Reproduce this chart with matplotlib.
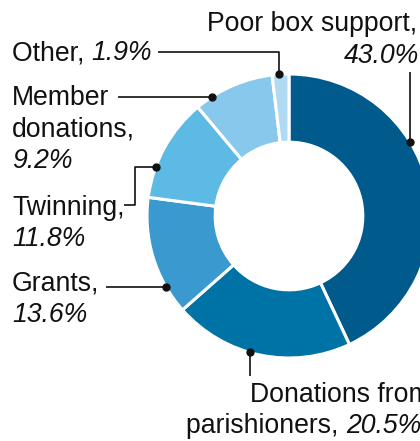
import numpy as np
import matplotlib.pyplot as plt

plt.rcParams['font.family'] = ['Liberation Sans', 'DejaVu Sans']

# data
categories = ["Poor box support", "Donations from parishioners", "Grants",
              "Twinning", "Member donations", "Other"]
shares = [43.0, 20.5, 13.6, 11.8, 9.2, 1.9]
colors = ["#005a8c", "#0073a6", "#3a99cf", "#5cbae4", "#88c8ec", "#b0daf4"]

# label text, one list per line: (text, italic)
label_lines = {
    "Poor box support": [[("Poor box support,", False)], [("{p}", True)]],
    "Donations from parishioners": [[("Donations from", False)],
                                    [("parishioners, ", False), ("{p}", True)]],
    "Grants": [[("Grants,", False)], [("{p}", True)]],
    "Twinning": [[("Twinning,", False)], [("{p}", True)]],
    "Member donations": [[("Member", False)], [("donations,", False)], [("{p}", True)]],
    "Other": [[("Other, ", False), ("{p}", True)]],
}

# layout in reference pixels
W, H = 420, 441
CX, CY, R = 289, 216, 142
FS = 19.2

text_pos = {  # x of left edge, baselines
    "Poor box support": [(207, 31), (344, 63)],
    "Donations from parishioners": [(250, 402), (186, 433)],
    "Grants": [(12, 291), (12, 322)],
    "Twinning": [(12, 215), (12, 246)],
    "Member donations": [(12, 105), (12, 137), (12, 168)],
    "Other": [(12, 60)],
}
anchor_deg = {"Poor box support": 31.5, "Donations from parishioners": -106,
              "Grants": -150, "Twinning": 159.8, "Member donations": 123,
              "Other": 94}


def P(x, y):
    return (x - CX) / R, (CY - y) / R


fig = plt.figure(figsize=(W / 100, H / 100), dpi=100)
ax = fig.add_axes([(CX - R) / W, (H - CY - R) / H, 2 * R / W, 2 * R / H])

ax.pie(shares, colors=colors, startangle=90, counterclock=False, radius=1,
       wedgeprops=dict(width=0.48, edgecolor="white", linewidth=2.2))
ax.set_xlim(-1, 1)
ax.set_ylim(-1, 1)
ax.axis("off")


def draw_line(x, y, parts):
    txt, it = parts[0]
    t = ax.text(*P(x, y), txt, fontsize=FS, style="italic" if it else "normal",
                ha="left", va="baseline", color="#111111")
    for txt, it in parts[1:]:
        t = ax.annotate(txt, xy=(1, 0), xycoords=t, fontsize=FS,
                        style="italic" if it else "normal",
                        ha="left", va="bottom", color="#111111")


for cat, val in zip(categories, shares):
    pct = f"{val:.1f}%"
    for (x, y), parts in zip(text_pos[cat], label_lines[cat]):
        draw_line(x, y, [(s.format(p=pct), it) for s, it in parts])

    a = np.deg2rad(anchor_deg[cat])
    dx, dy = np.cos(a), np.sin(a)
    if cat == "Poor box support":
        pts = [(dx, P(0, 72)[1]), (dx, dy)]
    elif cat == "Donations from parishioners":
        pts = [(dx, P(0, 376)[1]), (dx, dy)]
    elif cat == "Grants":
        pts = [(P(106, 0)[0], dy), (dx, dy)]
    elif cat == "Member donations":
        pts = [(P(118, 0)[0], dy), (dx, dy)]
    elif cat == "Twinning":
        x0, y0 = P(124, 205)
        x1 = P(135, 0)[0]
        pts = [(x0, y0), (x1, y0), (x1, dy), (dx, dy)]
    else:
        x0, y0 = P(158, 52)
        pts = [(x0, y0), (dx, y0), (dx, dy)]
    xs, ys = zip(*pts)
    ax.plot(xs, ys, color="#111111", lw=1.2, clip_on=False, solid_capstyle="butt")
    ax.plot(dx, dy, "o", color="#111111", ms=5, clip_on=False)

fig.savefig("out.png", dpi=100)
